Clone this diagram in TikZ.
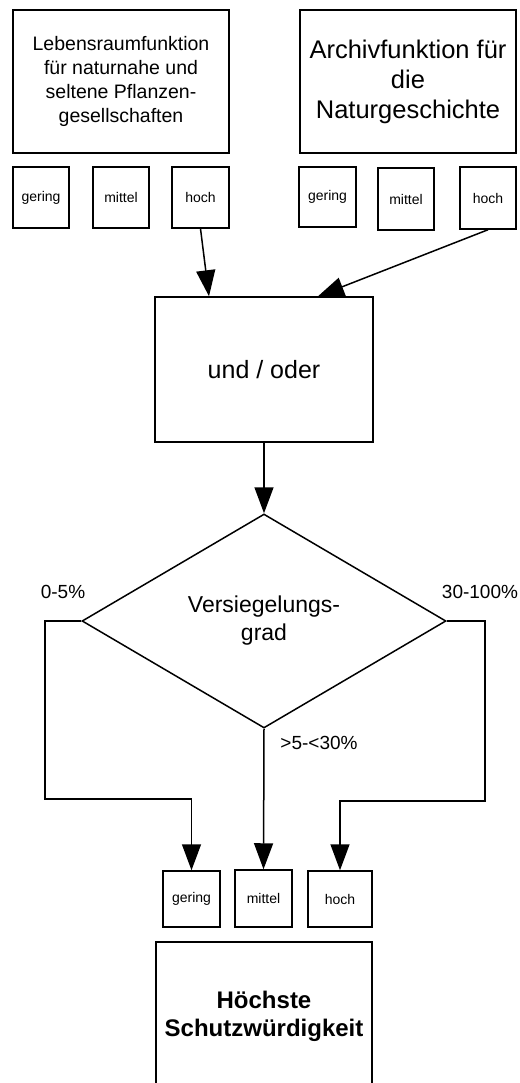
\documentclass[tikz,border=0pt]{standalone}
\usepackage{fontspec}
\setmainfont{Liberation Sans}
\usetikzlibrary{arrows.meta}
\usetikzlibrary{shapes.geometric}

\begin{document}
\begin{tikzpicture}[x=1pt, y=-1pt, line width=1.5pt,
    kasten/.style={draw, rectangle, inner sep=0pt, align=center},
    stufe/.style={kasten, font=\fontsize{14}{16}\selectfont},
    pfeil/.style={-{Triangle[length=26pt, width=19pt]}},
    anteil/.style={font=\fontsize{19}{22}\selectfont}]
      \useasboundingbox (0,0) rectangle (519,1083);
      \clip (0,0) rectangle (519,1083);

      % Teilfunktionen
      \node[kasten, minimum width=216pt, minimum height=143pt, font=\fontsize{19.5}{24}\selectfont] (leben) at (121, 81.5) {Lebensraumfunktion\\für naturnahe und\\seltene Pflanzen-\\gesellschaften};
      \node[kasten, minimum width=216pt, minimum height=143pt, font=\fontsize{25.5}{30}\selectfont] (archiv) at (408, 81.5) {Archivfunktion für\\die\\Naturgeschichte};

      \node[stufe, minimum width=56pt, minimum height=61pt] (gL) at (41, 197.5) {gering};
      \node[stufe, minimum width=56pt, minimum height=61pt] (mL) at (121, 197.5) {mittel};
      \node[stufe, minimum width=57pt, minimum height=61pt] (hL) at (200.5, 197.5) {hoch};
      \node[stufe, minimum width=57pt, minimum height=60pt] (gR) at (327.5, 197) {gering};
      \node[stufe, minimum width=56pt, minimum height=62pt] (mR) at (406, 199) {mittel};
      \node[stufe, minimum width=56pt, minimum height=62pt] (hR) at (488, 198) {hoch};

      \node[kasten, minimum width=218pt, minimum height=145pt, font=\fontsize{25}{30}\selectfont] (und) at (264, 369.5) {und / oder};

      \node[draw, diamond, inner sep=0pt, minimum width=364pt, minimum height=214pt, align=center, font=\fontsize{23}{28}\selectfont] (grad) at (264, 621) {Versiegelungs-\\grad};

      \draw[pfeil] (hL.south) -- ([xshift=-55pt]und.north);
      \draw[pfeil] (hR.south) -- ([xshift=54pt]und.north);
      \draw[pfeil] (und.south) -- (grad.north);

      % Ergebnis
      \node[stufe, minimum width=57pt, minimum height=56pt] (gB) at (191.5, 899) {gering};
      \node[stufe, minimum width=57pt, minimum height=57pt] (mB) at (263.5, 898.5) {mittel};
      \node[stufe, minimum width=64pt, minimum height=56pt] (hB) at (340, 899) {hoch};

      \coordinate (lk) at (45, 799);
      \coordinate (rk) at (485, 801);
      \draw[pfeil] (grad.west) -| (lk) -| (gB.north);
      \draw[pfeil] (grad.south) -- (mB.north);
      \draw[pfeil] (grad.east) -| (rk) -| (hB.north);

      \node[anteil] (a1) at (63, 592) {0-5\%};
      \node[anteil] (a2) at (480, 592) {30-100\%};
      \node[anteil] (a3) at (319, 743) {>5-<30\%};

      \node[kasten, minimum width=216pt, minimum height=148pt, font=\bfseries\fontsize{24}{28}\selectfont] (schutz) at (264, 1016) {Höchste\\Schutzwürdigkeit};
    \end{tikzpicture}
\end{document}
